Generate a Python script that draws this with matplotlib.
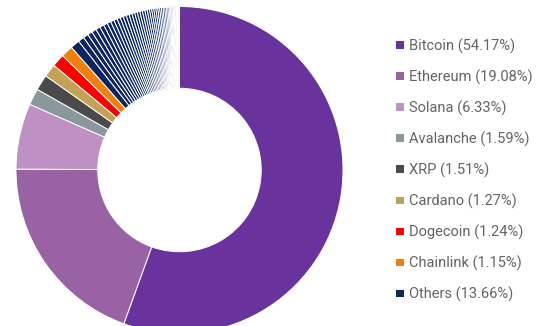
import matplotlib
matplotlib.use("Agg")
import matplotlib.pyplot as plt
from matplotlib.patches import Rectangle

names = ["Bitcoin", "Ethereum", "Solana", "Avalanche", "XRP", "Cardano", "Dogecoin", "Chainlink", "Others"]
shares = [54.17, 19.08, 6.33, 1.59, 1.51, 1.27, 1.24, 1.15, 13.66]
colors = ["#6a329c", "#9862a5", "#bf90c3", "#8a979d", "#4a4a4a", "#c3a253", "#fe0000", "#f27f07", "#0b2560"]
# individual coins drawn as the thin navy slices of "Others"
others_parts = [0.90, 0.58, 0.50, 0.46, 0.45, 0.43, 0.41, 0.38, 0.36, 0.34, 0.33, 0.31, 0.30,
                0.30, 0.29, 0.28, 0.27, 0.26, 0.25, 0.25, 0.24, 0.23, 0.22, 0.21, 0.20, 0.20,
                0.19, 0.18, 0.17, 0.16, 0.16, 0.15, 0.14, 0.13, 0.12, 0.11, 0.11, 0.10, 0.09,
                0.08, 0.07, 0.07, 0.06, 0.05, 0.04, 0.03, 0.02, 0.02, 0.01]

W, H = 555, 326
fig = plt.figure(figsize=(W / 100, H / 100), dpi=100)
cx, cy, r = 179.5, 170, 163.5
ax = fig.add_axes([(cx - r) / W, (H - cy - r) / H, 2 * r / W, 2 * r / H])

values = shares[:-1] + others_parts
wcolors = colors[:-1] + [colors[-1]] * len(others_parts)
ax.pie(values, colors=wcolors, startangle=90, counterclock=False, radius=1.0,
       wedgeprops=dict(width=0.5, edgecolor="white", linewidth=0.7))
ax.set_xlim(-1, 1)
ax.set_ylim(-1, 1)
ax.set_aspect("equal")
ax.axis("off")

y0, dy = 46, 31.1
for i, (n, s, c) in enumerate(zip(names, shares, colors)):
    y = y0 + i * dy
    fig.patches.append(Rectangle((396 / W, (H - y - 2.5) / H), 7.5 / W, 7.5 / H,
                                 transform=fig.transFigure, facecolor=c, edgecolor="none"))
    fig.text(409 / W, (H - y) / H, f"{n} ({s:.2f}%)", fontsize=10.5, color="#646464",
             family="Roboto", va="center", ha="left")

fig.savefig("out.png", dpi=100)
